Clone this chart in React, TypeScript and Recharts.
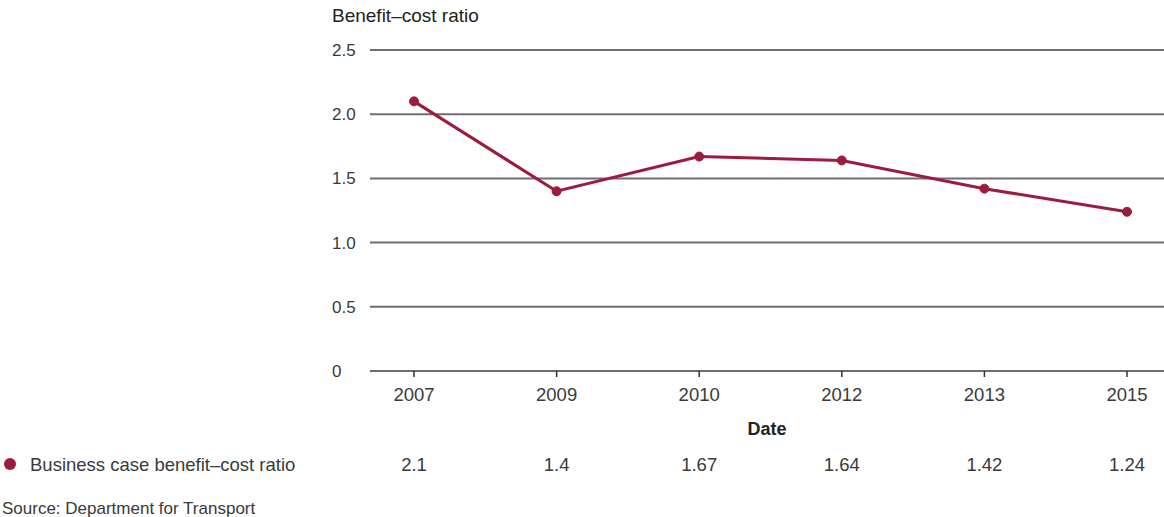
import React from 'react';
import { LineChart, Line, XAxis, YAxis, CartesianGrid } from 'recharts';

const years = ['2007', '2009', '2010', '2012', '2013', '2015'];
const ratios = [2.1, 1.4, 1.67, 1.64, 1.42, 1.24];
const ratioLabels = ['2.1', '1.4', '1.67', '1.64', '1.42', '1.24'];
const yTicks = [0, 0.5, 1.0, 1.5, 2.0, 2.5];

const data = years.map((y, i) => ({ year: y, ratio: ratios[i], label: ratioLabels[i] }));

const RED = '#9c1c3f';
const FONT = '"Liberation Sans", Arial, Helvetica, sans-serif';
const TEXT = '#3a3a3a';

const XTick = (props: any) => {
  const { x, y, payload, index } = props;
  return (
    <g>
      <text x={x} y={y + 22} textAnchor="middle" fontSize={18.5} fill={TEXT} fontFamily={FONT}>
        {payload.value}
      </text>
      <text x={x} y={y + 92} textAnchor="middle" fontSize={18.5} fill={TEXT} fontFamily={FONT}>
        {data[index] ? data[index].label : ''}
      </text>
    </g>
  );
};

const YTick = (props: any) => {
  const { x, y, payload } = props;
  const v = payload.value;
  return (
    <text x={x - 30} y={y + 6} textAnchor="start" fontSize={17} fill={TEXT} fontFamily={FONT}>
      {v === 0 ? '0' : v.toFixed(1)}
    </text>
  );
};

export default function App() {
  return (
    <div style={{ position: 'absolute', left: 0, top: 0, width: 1164, height: 517, background: '#fff', fontFamily: FONT }}>
      <LineChart width={1164} height={517} data={data} margin={{ top: 50, right: 0, left: 0, bottom: 0 }}>
        <CartesianGrid horizontal vertical={false} stroke="#6e6e6e" strokeWidth={2} />
        <XAxis
          dataKey="year"
          height={146}
          padding={{ left: 44, right: 37 }}
          axisLine={{ stroke: '#6e6e6e', strokeWidth: 2 }}
          tickLine={{ stroke: '#333', strokeWidth: 1.5 }}
          tickSize={6}
          tick={<XTick />}
          interval={0}
        />
        <YAxis
          width={370}
          domain={[0, 2.5]}
          ticks={yTicks}
          axisLine={false}
          tickLine={false}
          tick={<YTick />}
          interval={0}
        />
        <Line
          type="linear"
          dataKey="ratio"
          stroke={RED}
          strokeWidth={3}
          dot={{ r: 4.5, fill: RED, stroke: RED, strokeWidth: 1 }}
          isAnimationActive={false}
        />
        <text x={332} y={22} fontSize={19} fill="#222" fontFamily={FONT}>Benefit–cost ratio</text>
        <text x={767} y={435} textAnchor="middle" fontSize={18} fontWeight="bold" fill="#222" fontFamily={FONT}>Date</text>
        <circle cx={10} cy={464} r={6} fill={RED} />
        <text x={30} y={471} fontSize={18.5} fill={TEXT} fontFamily={FONT}>Business case benefit–cost ratio</text>
        <text x={2} y={514} fontSize={17} fill={TEXT} fontFamily={FONT}>Source: Department for Transport</text>
      </LineChart>
    </div>
  );
}
